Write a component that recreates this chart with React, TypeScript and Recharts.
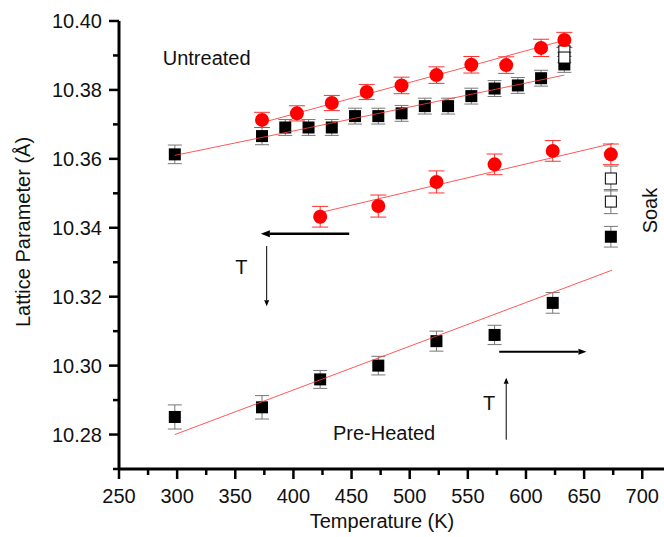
import React from "react";
import {
  ScatterChart,
  Scatter,
  XAxis,
  YAxis,
  ErrorBar,
  ReferenceLine,
  ReferenceDot,
  Label,
} from "recharts";

const FONT = "'Liberation Sans', Arial, Helvetica, sans-serif";

// Untreated sample, red circles (K, Å, ±Å)
const untreatedRedT = [373, 403, 433, 463, 493, 523, 553, 583, 613, 633];
const untreatedRedA = [10.3713, 10.3732, 10.3762, 10.3794, 10.3813, 10.3843, 10.3873, 10.3872, 10.3922, 10.3945];
const untreatedRedErr = [0.0022, 0.0022, 0.0022, 0.0022, 0.0024, 0.0024, 0.0024, 0.0024, 0.0025, 0.0022];

// Untreated sample, black squares
const untreatedBlackT = [298, 373, 393, 413, 433, 453, 473, 493, 513, 533, 553, 573, 593, 613, 633];
const untreatedBlackA = [10.3613, 10.3666, 10.3691, 10.3691, 10.3691, 10.3724, 10.3724, 10.3732, 10.3753, 10.3753, 10.3782, 10.3804, 10.3813, 10.3834, 10.3874];
const untreatedBlackErr = [0.0027, 0.0025, 0.0023, 0.0023, 0.0023, 0.0023, 0.0023, 0.0023, 0.0023, 0.0023, 0.0023, 0.0023, 0.0023, 0.0023, 0.0023];

// Open squares (soak)
const openT = [633, 633, 673, 673];
const openA = [10.3912, 10.3894, 10.3543, 10.3476];
const openErr = [0.0015, 0.0015, 0.0036, 0.0035];

// Pre-heated sample, red circles
const heatedRedT = [423, 473, 523, 573, 623, 673];
const heatedRedA = [10.3432, 10.3463, 10.3533, 10.3584, 10.3623, 10.3613];
const heatedRedErr = [0.003, 0.0032, 0.0032, 0.003, 0.003, 0.003];

// Pre-heated sample, black squares
const heatedBlackT = [298, 373, 423, 473, 523, 573, 623, 673];
const heatedBlackA = [10.2851, 10.2879, 10.296, 10.3, 10.3071, 10.3089, 10.3182, 10.3374];
const heatedBlackErr = [0.0035, 0.0034, 0.0026, 0.0027, 0.0029, 0.0028, 0.003, 0.003];

// Linear fits (end points)
const fitUntreatedRedT = [373, 633];
const fitUntreatedRedA = [10.3705, 10.3944];
const fitUntreatedBlackT = [298, 633];
const fitUntreatedBlackA = [10.361, 10.3843];
const fitHeatedRedT = [423, 675];
const fitHeatedRedA = [10.3444, 10.3645];
const fitHeatedBlackT = [298, 674];
const fitHeatedBlackA = [10.28, 10.3277];

// Axis ticks
const xTicks = [250, 275, 300, 325, 350, 375, 400, 425, 450, 475, 500, 525, 550, 575, 600, 625, 650, 675, 700];
const yTicks = [10.27, 10.28, 10.29, 10.3, 10.31, 10.32, 10.33, 10.34, 10.35, 10.36, 10.37, 10.38, 10.39, 10.4];
const xDomain: [number, number] = [250, 718.7];
const yDomain: [number, number] = [10.27, 10.4];

const toPoints = (t: number[], a: number[], e?: number[]) =>
  t.map((x, i) => ({ t: x, a: a[i], err: e ? e[i] : 0 }));

const filledSquare = (p: any) => (
  <rect x={p.cx - 6} y={p.cy - 6} width={12} height={12} fill="#000" />
);
const openSquare = (p: any) => (
  <rect x={p.cx - 5.5} y={p.cy - 5.5} width={11} height={11} fill="#fff" stroke="#000" strokeWidth={1} />
);
const redCircle = (p: any) => <circle cx={p.cx} cy={p.cy} r={7} fill="#ff0000" />;
const noShape = () => <g />;

const XTick = (props: any) => {
  const { x, y, payload } = props;
  const major = payload.value % 50 === 0;
  return (
    <g>
      <line x1={x} y1={y - 1} x2={x} y2={y + (major ? 10 : 6)} stroke="#000" strokeWidth={2.5} />
      {major && (
        <text x={x} y={y + 34} textAnchor="middle" fontSize={20} fontFamily={FONT} fill="#111">
          {payload.value}
        </text>
      )}
    </g>
  );
};

const YTick = (props: any) => {
  const { x, y, payload } = props;
  const major = Math.round(payload.value * 100) % 2 === 0;
  return (
    <g>
      <line x1={x} y1={y} x2={x - (major ? 10 : 6)} y2={y} stroke="#000" strokeWidth={2.5} />
      {major && (
        <text x={x - 17} y={y + 7} textAnchor="end" fontSize={20} fontFamily={FONT} fill="#111">
          {payload.value.toFixed(2)}
        </text>
      )}
    </g>
  );
};

// line with a filled head at its end point
const arrow = (width: number, head: number, half: number) => (p: any) => {
  const { x1, y1, x2, y2 } = p;
  const ang = Math.atan2(y2 - y1, x2 - x1);
  const bx = x2 - head * Math.cos(ang);
  const by = y2 - head * Math.sin(ang);
  const px = -Math.sin(ang) * half;
  const py = Math.cos(ang) * half;
  return (
    <g>
      <line x1={x1} y1={y1} x2={bx} y2={by} stroke="#000" strokeWidth={width} />
      <polygon points={`${x2},${y2} ${bx + px},${by + py} ${bx - px},${by - py}`} fill="#000" />
    </g>
  );
};

const note = (text: string, anchor: "start" | "middle" | "end" = "start", rotate = false) => (p: any) => (
  <text
    x={p.cx}
    y={p.cy}
    textAnchor={anchor}
    dominantBaseline="central"
    fontSize={20}
    fontFamily={FONT}
    fill="#111"
    transform={rotate ? `rotate(-90 ${p.cx} ${p.cy})` : undefined}
  >
    {text}
  </text>
);

const fitLine = { stroke: "#ff3b3b", strokeWidth: 1, strokeOpacity: 0.85 };

export default function App() {
  return (
    <div style={{ position: "absolute", left: 0, top: 0, width: 664, height: 537, background: "#fff" }}>
      <ScatterChart width={664} height={537} margin={{ top: 21, right: 0, bottom: 0, left: 0 }}>
        <XAxis
          dataKey="t"
          type="number"
          domain={xDomain}
          ticks={xTicks}
          interval={0}
          allowDataOverflow
          height={68}
          tickSize={0}
          tickMargin={0}
          tickLine={false}
          tick={<XTick />}
          axisLine={{ stroke: "#000", strokeWidth: 3 }}
        >
          <Label
            content={() => (
              <text x={382} y={528} textAnchor="middle" fontSize={20} fontFamily={FONT} fill="#111">
                Temperature (K)
              </text>
            )}
          />
        </XAxis>
        <XAxis
          xAxisId="top"
          orientation="top"
          type="number"
          domain={xDomain}
          allowDataOverflow
          height={0}
          tick={false}
          tickLine={false}
          axisLine={{ stroke: "#000", strokeWidth: 2.5 }}
        />
        <YAxis
          dataKey="a"
          type="number"
          domain={yDomain}
          ticks={yTicks}
          interval={0}
          allowDataOverflow
          width={119}
          tickSize={0}
          tickMargin={0}
          tickLine={false}
          tick={<YTick />}
          axisLine={{ stroke: "#000", strokeWidth: 3 }}
        >
          <Label
            content={() => (
              <text
                x={23}
                y={232}
                transform="rotate(-90 23 232)"
                textAnchor="middle"
                dominantBaseline="central"
                fontSize={20}
                fontFamily={FONT}
                fill="#111"
              >
                Lattice Parameter (Å)
              </text>
            )}
          />
        </YAxis>

        <Scatter data={toPoints(untreatedBlackT, untreatedBlackA, untreatedBlackErr)} shape={filledSquare} isAnimationActive={false}>
          <ErrorBar dataKey="err" direction="y" width={7} stroke="#777" strokeWidth={1} />
        </Scatter>
        <Scatter data={toPoints(heatedBlackT, heatedBlackA, heatedBlackErr)} shape={filledSquare} isAnimationActive={false}>
          <ErrorBar dataKey="err" direction="y" width={7} stroke="#777" strokeWidth={1} />
        </Scatter>
        <Scatter data={toPoints(openT, openA, openErr)} shape={openSquare} isAnimationActive={false}>
          <ErrorBar dataKey="err" direction="y" width={7} stroke="#777" strokeWidth={1} />
        </Scatter>

        {/* fitted lines sit over the squares, under the circles */}
        <Scatter data={toPoints(fitUntreatedRedT, fitUntreatedRedA)} line={fitLine} shape={noShape} isAnimationActive={false} />
        <Scatter data={toPoints(fitUntreatedBlackT, fitUntreatedBlackA)} line={fitLine} shape={noShape} isAnimationActive={false} />
        <Scatter data={toPoints(fitHeatedRedT, fitHeatedRedA)} line={fitLine} shape={noShape} isAnimationActive={false} />
        <Scatter data={toPoints(fitHeatedBlackT, fitHeatedBlackA)} line={fitLine} shape={noShape} isAnimationActive={false} />

        <Scatter data={toPoints(untreatedRedT, untreatedRedA, untreatedRedErr)} shape={redCircle} isAnimationActive={false}>
          <ErrorBar dataKey="err" direction="y" width={8} stroke="#ff3030" strokeWidth={1} />
        </Scatter>
        <Scatter data={toPoints(heatedRedT, heatedRedA, heatedRedErr)} shape={redCircle} isAnimationActive={false}>
          <ErrorBar dataKey="err" direction="y" width={8} stroke="#ff3030" strokeWidth={1} />
        </Scatter>

        <ReferenceLine segment={[{ x: 448, y: 10.3383 }, { x: 372, y: 10.3383 }]} shape={arrow(2.5, 9, 3.5)} />
        <ReferenceLine segment={[{ x: 377, y: 10.3347 }, { x: 377, y: 10.3172 }]} shape={arrow(1, 6, 2.5)} />
        <ReferenceLine segment={[{ x: 577, y: 10.304 }, { x: 652, y: 10.304 }]} shape={arrow(2, 8, 3)} />
        <ReferenceLine segment={[{ x: 583, y: 10.2785 }, { x: 583, y: 10.2965 }]} shape={arrow(1, 6, 2.5)} />

        <ReferenceDot x={287.6} y={10.3892} shape={note("Untreated")} />
        <ReferenceDot x={434} y={10.2805} shape={note("Pre-Heated")} />
        <ReferenceDot x={355.3} y={10.3285} shape={note("T", "middle")} />
        <ReferenceDot x={568.4} y={10.2892} shape={note("T", "middle")} />
        <ReferenceDot x={706.6} y={10.345} shape={note("Soak", "middle", true)} />
      </ScatterChart>
    </div>
  );
}
